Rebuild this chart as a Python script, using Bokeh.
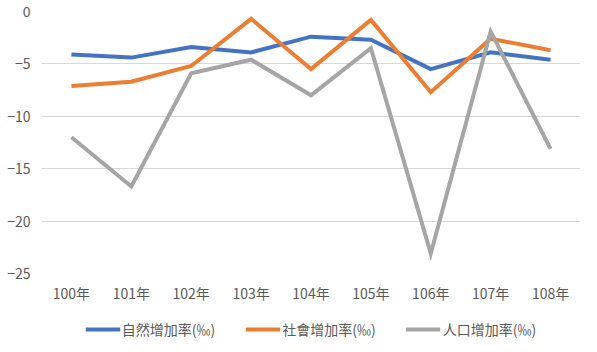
from bokeh.plotting import figure
from bokeh.models import Legend, LegendItem, FixedTicker, Range1d
from bokeh.layouts import column
from bokeh.embed import file_html
from bokeh.resources import INLINE

years = ["100年", "101年", "102年", "103年", "104年", "105年", "106年", "107年", "108年"]
natural = [-4.1, -4.4, -3.4, -3.9, -2.4, -2.7, -5.5, -3.9, -4.6]
social = [-7.1, -6.7, -5.2, -0.7, -5.5, -0.8, -7.7, -2.6, -3.7]
population = [-12.0, -16.7, -5.9, -4.6, -8.0, -3.5, -23.1, -1.9, -13.1]
names = ["自然增加率(‰)", "社會增加率(‰)", "人口增加率(‰)"]
colors = ["#4472C4", "#ED7D31", "#A5A5A5"]
yticks = [0, -5, -10, -15, -20, -25]

FONT = "Noto Sans CJK TC"
FS = "14px"
TXT = "#595959"
series = [natural, social, population]

p = figure(width=597, height=305, x_range=years, y_range=Range1d(-25, 0),
           output_backend="svg", toolbar_location=None,
           min_border_left=41, min_border_right=17, min_border_top=11, min_border_bottom=30)
p.outline_line_color = None
p.background_fill_color = "white"
p.border_fill_color = "white"

for vals, c in zip(series, colors):
    p.line(years, vals, line_color=c, line_width=4, line_join="miter")

p.xgrid.grid_line_color = None
p.ygrid.grid_line_color = "#D9D9D9"
p.ygrid.grid_line_width = 1
p.yaxis.ticker = FixedTicker(ticks=yticks)

for ax in (p.xaxis[0], p.yaxis[0]):
    ax.axis_line_color = None
    ax.major_tick_line_color = None
    ax.minor_tick_line_color = None
    ax.major_tick_out = 0
    ax.major_tick_in = 0
    ax.major_label_text_font = FONT
    ax.major_label_text_font_size = FS
    ax.major_label_text_color = TXT
p.yaxis.major_label_standoff = 11
p.xaxis.major_label_standoff = 9

# legend strip: same series drawn out of view, only the legend is visible
lg = figure(width=597, height=47, x_range=years, y_range=Range1d(100, 101),
            output_backend="svg", toolbar_location=None,
            x_axis_location=None, y_axis_location=None,
            min_border_left=0, min_border_right=0, min_border_top=0, min_border_bottom=0)
lg.outline_line_color = None
lg.xgrid.grid_line_color = None
lg.ygrid.grid_line_color = None
lrs = [lg.line(years, vals, line_color=c, line_width=4) for vals, c in zip(series, colors)]
legend = Legend(items=[LegendItem(label=n, renderers=[r]) for n, r in zip(names, lrs)],
                orientation="horizontal", location="center",
                label_text_font=FONT, label_text_font_size=FS,
                label_text_color=TXT, glyph_width=35, label_standoff=2,
                spacing=30, border_line_color=None, background_fill_alpha=0,
                padding=0, margin=0)
lg.add_layout(legend, "center")

layout = column(p, lg, spacing=0)
open("out.html", "w").write(file_html(layout, INLINE))
